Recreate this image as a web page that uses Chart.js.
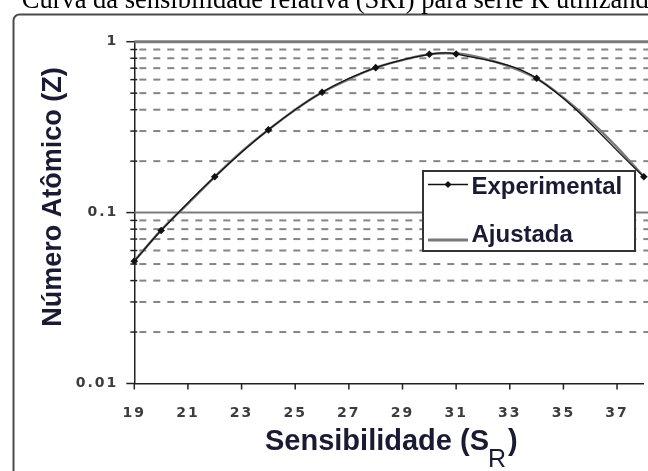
<!DOCTYPE html>
<html><head><meta charset="utf-8">
<script src="https://cdn.jsdelivr.net/npm/chart.js@4"></script>
<style>html,body{margin:0;padding:0;background:#fff;overflow:hidden}canvas{display:block}</style>
</head><body>
<div style="width:648px;height:471px"><canvas id="c" width="648" height="471"></canvas></div>
<script>
const captionText = 'Curva da sensibilidade relativa (SRI) para série K utilizando';
const xTitleMain = 'Sensibilidade (S';
const xTitleSub = 'R';
const xTitleEnd = ')';
const yTitle = 'Número Atômico (Z)';
const seriesNames = ['Experimental', 'Ajustada'];

const expX = [19, 20, 22, 24, 26, 28, 30, 31, 34, 38];
const expY = [0.052, 0.0785, 0.162, 0.305, 0.506, 0.705, 0.844, 0.848, 0.611, 0.162];

const fitX = [19, 20, 21, 22, 23, 24, 25, 26, 27, 28, 29, 30, 31, 32, 33, 34, 35, 36, 37, 38];
const fitY = [0.052, 0.079, 0.113, 0.162, 0.227, 0.305, 0.40, 0.505, 0.603, 0.705, 0.78, 0.845, 0.852, 0.80, 0.714, 0.61, 0.47, 0.344, 0.241, 0.162];

const xTickValues = [19, 21, 23, 25, 27, 29, 31, 33, 35, 37];
const yMajorTicks = [0.01, 0.1, 1];
const yMinorTicks = [0.02, 0.03, 0.04, 0.05, 0.06, 0.07, 0.08, 0.09, 0.2, 0.3, 0.4, 0.5, 0.6, 0.7, 0.8, 0.9];

const TEXT_DARK = '#1a1a33';

const decorPlugin = {
  id: 'decor',
  beforeDraw(chart) {
    const ctx = chart.ctx;
    ctx.save();
    ctx.fillStyle = '#fff';
    ctx.fillRect(0, 0, chart.width, chart.height);
    ctx.strokeStyle = '#4a4a4a';
    ctx.lineWidth = 2;
    ctx.beginPath();
    ctx.roundRect(13.5, 14.5, 700, 520, 6);
    ctx.stroke();
    ctx.restore();
    ctx.letterSpacing = '2px';
  },
  beforeDatasetsDraw(chart) {
    const ctx = chart.ctx;
    ctx.letterSpacing = '0px';
    const a = chart.chartArea, x = chart.scales.x, y = chart.scales.y;
    ctx.save();
    ctx.strokeStyle = '#858585';
    ctx.lineWidth = 2;
    ctx.setLineDash([7, 7]);
    yMinorTicks.forEach(v => {
      const py = y.getPixelForValue(v);
      ctx.beginPath();
      ctx.moveTo(a.left + 5, py);
      ctx.lineTo(chart.width, py);
      ctx.stroke();
    });
    ctx.setLineDash([]);
    ctx.strokeStyle = '#7a7a7a';
    [0.1, 1].forEach(v => {
      const py = y.getPixelForValue(v);
      ctx.lineWidth = v === 1 ? 3 : 2;
      ctx.beginPath();
      ctx.moveTo(a.left, py);
      ctx.lineTo(chart.width, py);
      ctx.stroke();
    });
    ctx.strokeStyle = '#222';
    ctx.lineWidth = 1.5;
    yMajorTicks.forEach(v => {
      const py = y.getPixelForValue(v);
      ctx.beginPath(); ctx.moveTo(a.left - 8, py); ctx.lineTo(a.left, py); ctx.stroke();
    });
    yMinorTicks.forEach(v => {
      const py = y.getPixelForValue(v);
      ctx.beginPath(); ctx.moveTo(a.left - 4, py); ctx.lineTo(a.left + 3, py); ctx.stroke();
    });
    xTickValues.forEach(v => {
      const px = x.getPixelForValue(v);
      ctx.beginPath(); ctx.moveTo(px, a.bottom); ctx.lineTo(px, a.bottom + 6); ctx.stroke();
    });
    ctx.restore();
  },
  afterDraw(chart) {
    const ctx = chart.ctx;
    ctx.save();
    ctx.letterSpacing = '0px';
    ctx.fillStyle = '#000';
    ctx.font = '26.5px "Liberation Serif", "Times New Roman", serif';
    ctx.textAlign = 'left';
    ctx.textBaseline = 'alphabetic';
    ctx.fillText(captionText, 21.7, 7.5);

    const ds0 = chart.data.datasets[0], ds1 = chart.data.datasets[1];
    ctx.fillStyle = '#fff';
    ctx.fillRect(423, 171, 212, 80);
    ctx.strokeStyle = '#333';
    ctx.lineWidth = 2;
    ctx.strokeRect(423, 171, 212, 80);
    ctx.strokeStyle = ds0.borderColor;
    ctx.lineWidth = 1.6;
    ctx.beginPath(); ctx.moveTo(428, 184.5); ctx.lineTo(468, 184.5); ctx.stroke();
    ctx.fillStyle = ds0.pointBackgroundColor;
    ctx.beginPath();
    ctx.moveTo(448, 181); ctx.lineTo(451.5, 184.5); ctx.lineTo(448, 188); ctx.lineTo(444.5, 184.5); ctx.closePath(); ctx.fill();
    ctx.strokeStyle = ds1.borderColor;
    ctx.lineWidth = 3;
    ctx.beginPath(); ctx.moveTo(428, 240); ctx.lineTo(468, 240); ctx.stroke();
    ctx.fillStyle = TEXT_DARK;
    ctx.font = 'bold 24px "Liberation Sans", Arial, sans-serif';
    ctx.fillText(ds0.label, 471.5, 193.5);
    ctx.fillText(ds1.label, 471.5, 241.5);

    ctx.font = 'bold 29px "Liberation Sans", Arial, sans-serif';
    const xStart = 265;
    ctx.fillText(xTitleMain, xStart, 450);
    let w = ctx.measureText(xTitleMain).width;
    ctx.font = '25px "Liberation Sans", Arial, sans-serif';
    ctx.fillText(xTitleSub, xStart + w - 1, 467);
    const w2 = ctx.measureText(xTitleSub).width;
    ctx.font = 'bold 29px "Liberation Sans", Arial, sans-serif';
    ctx.fillText(xTitleEnd, xStart + w + w2 + 1, 450);

    ctx.translate(61, 197);
    ctx.rotate(-Math.PI / 2);
    ctx.textAlign = 'center';
    ctx.font = 'bold 27px "Liberation Sans", Arial, sans-serif';
    ctx.fillText(yTitle, 0, 0);
    ctx.restore();
  }
};

new Chart(document.getElementById('c'), {
  type: 'scatter',
  data: {
    datasets: [
      {
        label: seriesNames[0],
        data: expX.map((v, i) => ({ x: v, y: expY[i] })),
        showLine: true,
        borderColor: '#111',
        borderWidth: 1.3,
        pointStyle: 'rectRot',
        pointRadius: 3.8,
        pointBackgroundColor: '#111',
        pointBorderColor: '#111',
        pointBorderWidth: 0,
        tension: 0.35,
        clip: false
      },
      {
        label: seriesNames[1],
        data: fitX.map((v, i) => ({ x: v, y: fitY[i] })),
        showLine: true,
        borderColor: '#7a7a7a',
        borderWidth: 2.5,
        pointRadius: 0,
        tension: 0.35,
        clip: false
      }
    ]
  },
  options: {
    responsive: false,
    animation: false,
    devicePixelRatio: 1,
    layout: { padding: { top: 41.7, right: 2.8, left: 0, bottom: 0 } },
    plugins: { legend: { display: false }, tooltip: { enabled: false } },
    scales: {
      x: {
        type: 'linear',
        min: 19, max: 38,
        afterBuildTicks: s => { s.ticks = xTickValues.map(v => ({ value: v })); },
        afterFit: s => { s.height = 87.5; },
        grid: { display: false, drawTicks: false },
        border: { display: true, color: '#222', width: 1.5 },
        ticks: {
          padding: 21,
          autoSkip: false,
          maxRotation: 0,
          color: '#3c3c3c',
          font: { family: '"DejaVu Sans", sans-serif', size: 14, weight: 'bold' }
        }
      },
      y: {
        type: 'logarithmic',
        min: 0.01, max: 1,
        afterBuildTicks: s => { s.ticks = yMajorTicks.map(v => ({ value: v })); },
        afterFit: s => { s.width = 134.3; },
        grid: { display: false, drawTicks: false },
        border: { display: true, color: '#222', width: 1.5 },
        ticks: {
          padding: 16,
          color: '#3c3c3c',
          callback: v => String(v),
          font: { family: '"DejaVu Sans", sans-serif', size: 14, weight: 'bold' }
        }
      }
    }
  },
  plugins: [decorPlugin]
});
</script>
</body></html>
